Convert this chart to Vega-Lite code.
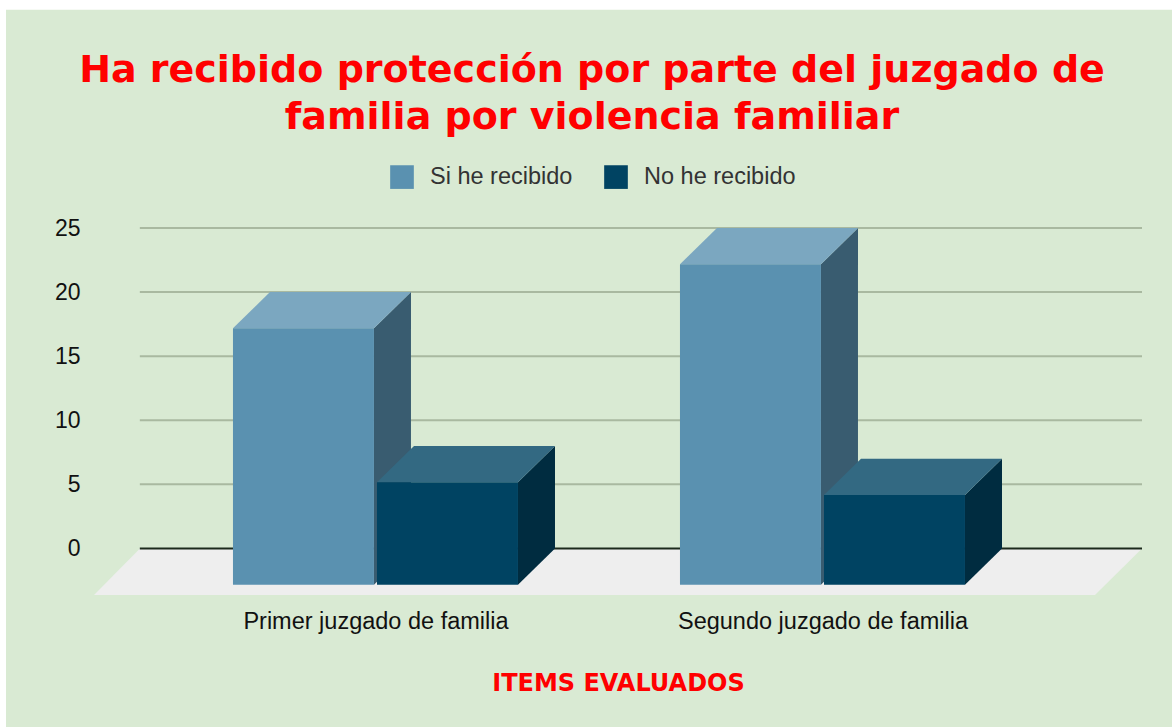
{"$schema":"https://vega.github.io/schema/vega-lite/v6.json","width":1048,"height":367,"autosize":{"type":"none"},"padding":{"left":94,"top":228,"right":30,"bottom":132},"background":"#ffffff","title":{"text":["Ha recibido protección por parte del juzgado de","familia por violencia familiar"],"font":"DejaVu Sans","fontSize":38,"fontWeight":"bold","color":"#ff0000","anchor":"middle","dx":-26,"offset":-157,"lineHeight":47,"baseline":"alphabetic","limit":1200},"params":[{"name":"dx","value":0.0828},{"name":"dy","value":2.83}],"datasets":{"bars":[{"juzgado":"Primer juzgado de familia","pos":0,"serie":"Si he recibido","valor":20},{"juzgado":"Primer juzgado de familia","pos":0,"serie":"No he recibido","valor":8},{"juzgado":"Segundo juzgado de familia","pos":1,"serie":"Si he recibido","valor":25},{"juzgado":"Segundo juzgado de familia","pos":1,"serie":"No he recibido","valor":7}]},"data":{"name":"bars"},"transform":[{"calculate":"datum.pos+(datum.serie==='Si he recibido'?-0.3188:0.0034)","as":"x0"},{"calculate":"datum.x0+0.3154","as":"x1"},{"calculate":"datum.valor-dy","as":"ft"},{"calculate":"-dy","as":"base"}],"layer":[{"data":{"values":[{"a":-0.8266,"b":1.783,"t":42.03,"u":-13.98}]},"transform":[],"mark":{"type":"rect","fill":"#d9ead3","clip":false},"encoding":{"x":{"field":"a","type":"quantitative","scale":{"domain":[-0.6297,1.7148],"nice":false,"zero":false},"axis":{"zindex":1,"values":[0,1],"labelExpr":"datum.value===0?'Primer juzgado de familia':'Segundo juzgado de familia'","title":"ITEMS EVALUADOS","titleColor":"#ff0000","titleFont":"DejaVu Sans","titleFontSize":24,"titleFontWeight":"bold","titlePadding":39,"labelFont":"Liberation Sans","labelFontSize":23.5,"labelColor":"#111111","labelPadding":14,"labelLimit":600,"domain":false,"ticks":false,"grid":false,"labelOverlap":false,"labelBound":false,"labelFlush":false}},"x2":{"field":"b"},"y":{"field":"t","type":"quantitative","scale":{"domain":[-3.633,25],"nice":false,"zero":false},"axis":{"zindex":1,"values":[0,5,10,15,20,25],"title":null,"labelFont":"Liberation Sans","labelFontSize":23,"labelColor":"#111111","labelPadding":14,"domain":false,"ticks":false,"grid":false}},"y2":{"field":"u"}}},{"data":{"values":[{"fx":-0.6297,"lo":-3.633,"hi":-3.633},{"fx":-0.5268,"lo":-3.633,"hi":0},{"fx":1.6096,"lo":-3.633,"hi":0},{"fx":1.7148,"lo":0,"hi":0}]},"transform":[],"mark":{"type":"area","fill":"#eeeeee"},"encoding":{"x":{"field":"fx","type":"quantitative"},"y":{"field":"lo","type":"quantitative"},"y2":{"field":"hi"}}},{"data":{"values":[{"v":5},{"v":10},{"v":15},{"v":20},{"v":25}]},"transform":[],"mark":{"type":"rule","stroke":"#a9b9a0","strokeWidth":2},"encoding":{"y":{"field":"v","type":"quantitative"},"x":{"datum":-0.5272,"type":"quantitative"},"x2":{"datum":1.7148}}},{"data":{"values":[{"v":0}]},"transform":[],"mark":{"type":"rule","stroke":"#1c2a1c","strokeWidth":2},"encoding":{"y":{"field":"v","type":"quantitative"},"x":{"datum":-0.5272,"type":"quantitative"},"x2":{"datum":1.7148}}},{"transform":[{"filter":"datum.serie==='Si he recibido'"},{"calculate":"[datum.x1,datum.x1+dx]","as":"sx"},{"calculate":"[datum.ft,datum.valor]","as":"sy"},{"calculate":"[datum.base,0]","as":"sy2"},{"flatten":["sx","sy","sy2"]}],"mark":{"type":"area","fill":"#395c70"},"encoding":{"x":{"field":"sx","type":"quantitative"},"y":{"field":"sy","type":"quantitative"},"y2":{"field":"sy2"},"detail":{"field":"juzgado"}}},{"transform":[{"filter":"datum.serie==='Si he recibido'"},{"calculate":"[datum.x0,datum.x0+dx,datum.x1,datum.x1+dx]","as":"tx"},{"calculate":"[datum.ft,datum.valor,datum.valor,datum.valor]","as":"ty"},{"calculate":"[datum.ft,datum.ft,datum.ft,datum.valor]","as":"ty2"},{"flatten":["tx","ty","ty2"]}],"mark":{"type":"area","fill":"#7ba7c0"},"encoding":{"x":{"field":"tx","type":"quantitative"},"y":{"field":"ty","type":"quantitative"},"y2":{"field":"ty2"},"detail":{"field":"juzgado"}}},{"transform":[{"filter":"datum.serie==='No he recibido'"},{"calculate":"[datum.x1,datum.x1+dx]","as":"sx"},{"calculate":"[datum.ft,datum.valor]","as":"sy"},{"calculate":"[datum.base,0]","as":"sy2"},{"flatten":["sx","sy","sy2"]}],"mark":{"type":"area","fill":"#002c40"},"encoding":{"x":{"field":"sx","type":"quantitative"},"y":{"field":"sy","type":"quantitative"},"y2":{"field":"sy2"},"detail":{"field":"juzgado"}}},{"transform":[{"filter":"datum.serie==='No he recibido'"},{"calculate":"[datum.x0,datum.x0+dx,datum.x1,datum.x1+dx]","as":"tx"},{"calculate":"[datum.ft,datum.valor,datum.valor,datum.valor]","as":"ty"},{"calculate":"[datum.ft,datum.ft,datum.ft,datum.valor]","as":"ty2"},{"flatten":["tx","ty","ty2"]}],"mark":{"type":"area","fill":"#336982"},"encoding":{"x":{"field":"tx","type":"quantitative"},"y":{"field":"ty","type":"quantitative"},"y2":{"field":"ty2"},"detail":{"field":"juzgado"}}},{"mark":{"type":"rect"},"encoding":{"x":{"field":"x0","type":"quantitative"},"x2":{"field":"x1"},"y":{"field":"ft","type":"quantitative"},"y2":{"field":"base"},"color":{"field":"serie","type":"nominal","scale":{"domain":["Si he recibido","No he recibido"],"range":["#5a91b0","#004362"]},"legend":{"title":null,"orient":"none","legendX":296,"legendY":-63,"direction":"horizontal","symbolType":"square","symbolSize":560,"labelFont":"Liberation Sans","labelFontSize":23.5,"labelColor":"#333333","labelOffset":16,"columnPadding":31,"symbolStrokeWidth":0,"values":["Si he recibido","No he recibido"]}}}}],"config":{"view":{"stroke":null}}}
